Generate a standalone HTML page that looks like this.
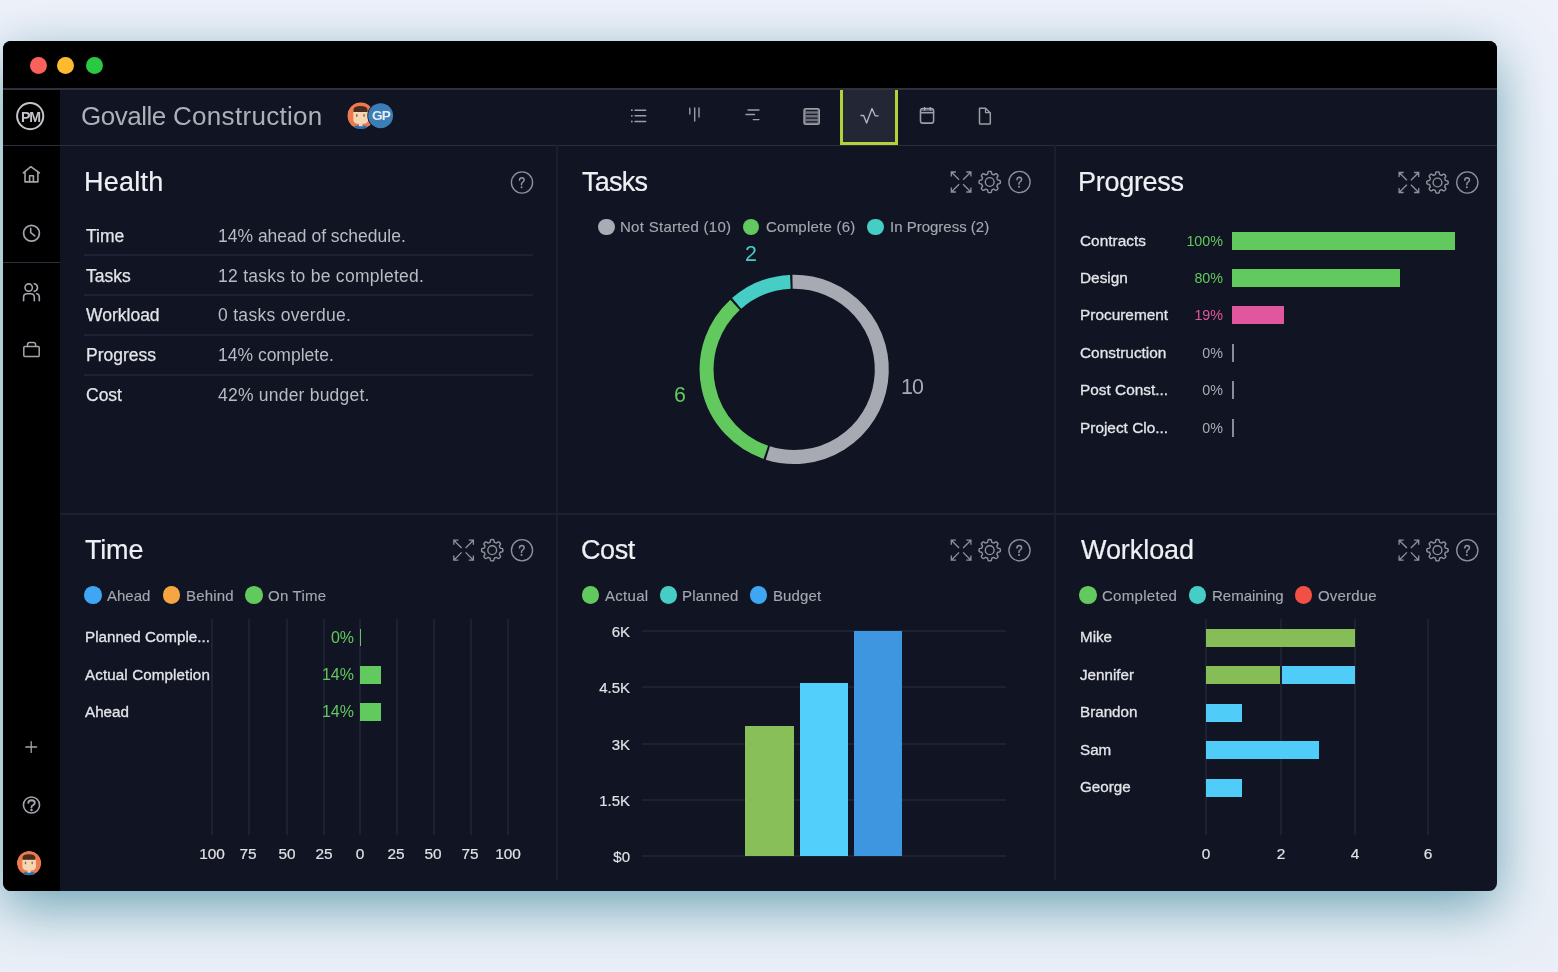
<!DOCTYPE html>
<html><head><meta charset="utf-8">
<style>
*{box-sizing:border-box;margin:0;padding:0}
html,body{width:1558px;height:972px;overflow:hidden}
body{position:relative;background:#edf1f7;font-family:"Liberation Sans",sans-serif;color:#e6e7ea}
.a{position:absolute}
.t{position:absolute;white-space:nowrap;will-change:transform}
#bgtop{left:0;top:0;width:1558px;height:972px;background:linear-gradient(180deg,#eef1fa 0px,#ebf0f8 500px,#eaeff7 100%)}
#win{left:3px;top:41px;width:1494px;height:850px;border-radius:8px;background:#111422;overflow:hidden;
 box-shadow:0 16px 54px rgba(70,140,158,.75)}
#title{left:0;top:0;width:1494px;height:48px;background:#000}
.tl{position:absolute;top:16px;width:17px;height:17px;border-radius:50%}
#side{left:0;top:48px;width:57px;height:802px;background:#000}
.hl{position:absolute;height:1px;background:#2a2d3b}
.vl{position:absolute;width:1px;background:#1f2232}
</style></head>
<body>
<div class="a" id="bgtop"></div>
<div class="a" id="win">
  <div class="a" id="title">
    <div class="tl" style="left:26.5px;background:#fb605a"></div>
    <div class="tl" style="left:54.3px;background:#febb2f"></div>
    <div class="tl" style="left:83px;background:#2bc941"></div>
  </div>
  <div class="a" id="side"></div>
  <!-- header lines -->
  
  <div class="hl" style="left:0;top:104px;width:1494px;background:#2b2e3c"></div>
  <div class="hl" style="left:0;top:221px;width:57px;background:#2b2e3c"></div>
</div>

<!-- sidebar icons -->
<svg class="a" style="left:0;top:0" width="70" height="890" viewBox="0 0 70 890" fill="none" stroke="#c3c5cb" stroke-width="1.6" stroke-linecap="round" stroke-linejoin="round">
  <circle cx="30.2" cy="116.1" r="13.1" stroke-width="2"/>
  <path d="M23.4 172.9 L30.8 166.7 L39.4 172.9 M25 171.6 V181.9 H37.9 V171.6 M29.6 181.9 V175.8 H33.4 V181.9" stroke="#a3a5ad"/>
  <circle cx="31.5" cy="233.3" r="7.9" stroke="#a3a5ad" stroke-width="1.7"/>
  <path d="M30.7 228.4 V232.6 L34.8 235.9" stroke="#a3a5ad"/>
  <circle cx="28.7" cy="287.6" r="3.7" stroke="#a3a5ad"/>
  <path d="M34.2 283.7 A3.9 3.9 0 0 1 34.2 291.4" stroke="#a3a5ad"/>
  <path d="M23.6 300.8 V297.2 Q23.6 293.7 27.1 293.7 H30.6 Q34.3 293.7 34.3 297.2 V300.8 M36.6 293.7 Q39.3 293.8 39.3 297.2 V300.8" stroke="#a3a5ad"/>
  <rect x="23.8" y="346.6" width="15.4" height="10" rx="1" stroke="#a3a5ad" stroke-width="1.5"/>
  <path d="M27.5 346.4 V344.8 Q27.5 342.6 29.7 342.6 H33.4 Q35.6 342.6 35.6 344.8 V346.4" stroke="#a3a5ad" stroke-width="1.5"/>
  <path d="M31.2 741.6 V752.4 M25.8 747 H36.6" stroke="#a3a5ad" stroke-width="1.3"/>
  <circle cx="31.5" cy="805" r="8.05" stroke="#a3a5ad" stroke-width="1.6"/>
  <path d="M28.3 802.9 Q28.4 800.3 31.6 800.3 Q34.8 800.4 34.8 802.8 Q34.8 804.3 33.2 805.1 Q31.5 805.9 31.5 807.1 V807.5" stroke="#a3a5ad" stroke-width="1.9"/>
  <circle cx="31.5" cy="809.9" r="1.25" fill="#a3a5ad" stroke="none"/>
</svg>
<div class="t" style="left:16.5px;top:108.6px;width:27px;text-align:center;font:bold 14.2px/16px 'Liberation Sans',sans-serif;color:#c3c5cb;letter-spacing:-1.1px">PM</div>
<!-- avatar bottom -->
<svg class="a" style="left:16.35px;top:849.60px" width="26.20" height="26.20" viewBox="-13 -13 26 26">
  <defs><clipPath id="cpA"><circle cx="0" cy="0" r="12"/></clipPath></defs>
  <g transform="scale(1.0083)" clip-path="url(#cpA)">
  <circle cx="0" cy="0" r="12" fill="#ec7a4e"/>
  <path d="M-5.6 9.2 Q0 8 5.4 9.2 L6 13 H-6.2Z" fill="#2a6db3"/>
  <path d="M-1.6 6 H1.6 V9.4 H-1.6Z" fill="#f3d3ad"/>
  <path d="M-6.6 -3.6 H6.7 V3.2 Q6.7 7.2 2.6 7.2 H-2.5 Q-6.6 7.2 -6.6 3.2Z" fill="#f6d7b3"/>
  <path d="M-6.4 -3.4 V-5.6 Q-6.2 -8.8 -0.2 -8.8 Q5.9 -8.8 6.1 -5.6 V-3.4Z" fill="#4a2c1f"/>
  <rect x="-4.2" y="-1.6" width="1.3" height="2.8" rx="0.6" fill="#8a6a44"/>
  <rect x="2.4" y="-1.6" width="1.3" height="2.8" rx="0.6" fill="#8a6a44"/>
  </g></svg>
<!-- header -->
<div class="t" style="left:81px;top:102px;font-size:26px;line-height:28px;color:#adb0ba;letter-spacing:-0.5px">Govalle</div><div class="t" style="left:172.5px;top:102px;font-size:26px;line-height:28px;color:#adb0ba;letter-spacing:0.3px">Construction</div>
<svg class="a" style="left:347.10px;top:101.80px" width="27.40" height="27.40" viewBox="-13 -13 26 26">
  <defs><clipPath id="cpB"><circle cx="0" cy="0" r="12"/></clipPath></defs>
  <g transform="scale(1.0583)" clip-path="url(#cpB)">
  <circle cx="0" cy="0" r="12" fill="#ec7a4e"/>
  <path d="M-5.6 9.2 Q0 8 5.4 9.2 L6 13 H-6.2Z" fill="#2a6db3"/>
  <path d="M-1.6 6 H1.6 V9.4 H-1.6Z" fill="#f3d3ad"/>
  <path d="M-6.6 -3.6 H6.7 V3.2 Q6.7 7.2 2.6 7.2 H-2.5 Q-6.6 7.2 -6.6 3.2Z" fill="#f6d7b3"/>
  <path d="M-6.4 -3.4 V-5.6 Q-6.2 -8.8 -0.2 -8.8 Q5.9 -8.8 6.1 -5.6 V-3.4Z" fill="#4a2c1f"/>
  <rect x="-4.2" y="-1.6" width="1.3" height="2.8" rx="0.6" fill="#8a6a44"/>
  <rect x="2.4" y="-1.6" width="1.3" height="2.8" rx="0.6" fill="#8a6a44"/>
  </g></svg>
<svg class="a" style="left:366px;top:101px" width="30" height="30" viewBox="366 101 30 30"><circle cx="380.6" cy="115.7" r="13.3" fill="#111422"/><circle cx="380.6" cy="115.7" r="12.5" fill="#3b7db7"/></svg>
<div class="t" style="left:367.6px;top:108.2px;width:26px;text-align:center;font:bold 13.6px/16px 'Liberation Sans',sans-serif;color:#e6eef6;letter-spacing:-0.9px">GP</div>
<!-- active tab -->
<div class="a" style="left:840px;top:89px;width:58px;height:56px;background:#232634;border:3px solid #b3d13a;border-top:0"></div>
<div class="a" style="left:3px;top:88px;width:1494px;height:2px;background:#2f323c"></div>
<svg class="a" style="left:600px;top:89px" width="420" height="56" viewBox="600 89 420 56" fill="none" stroke="#9b9ea8" stroke-width="1.4" stroke-linecap="round" stroke-linejoin="round">
  <path d="M635 110.2 H645.7 M635 115.8 H645.7 M635 121.5 H645.7" />
  <path d="M631.8 110.2 h0.1 M631.8 115.8 h0.1 M631.8 121.5 h0.1" stroke-width="1.8"/>
  <path d="M689.8 108.3 V114 M694.7 108 V121 M699 108 V117" />
  <path d="M748 110 H759 M746 114.5 H754.5 M753.2 119.6 H759" />
  <rect x="804" y="108.6" width="15.3" height="15.6" rx="1.8" fill="#6c6f7a" stroke="#9b9ea7" stroke-width="1.4"/>
  <path d="M806 110.6 H817.6 M806 114.4 H817.6 M806 118.2 H817.6 M806 121.8 H817.6" stroke="#151823" stroke-width="1.2" stroke-linecap="butt"/>
  <path d="M861 115.5 H863.6 L866.6 123 L872 108.6 L875.2 115.8 H878.2" stroke="#b3b6be" stroke-width="1.35"/>
  <path d="M920.6 111.2 V110.4 Q920.6 108.6 922.4 108.6 H931.8 Q933.6 108.6 933.6 110.4 V111.2 Z" fill="#5c5f6c" stroke="none"/>
  <rect x="920.5" y="108.5" width="13.1" height="14.6" rx="2.2" stroke-width="1.55"/>
  <path d="M920.5 112.7 H933.6" stroke-width="1.4"/>
  <path d="M924.6 107.6 V110 M930.3 107.6 V110" stroke="#b0b3bc" stroke-width="1.3"/>
  <path d="M979.5 108.2 H985.5 L990.3 113 V123.3 Q990.3 124.1 989.5 124.1 H980.3 Q979.5 124.1 979.5 123.3 Z" stroke-width="1.5"/>
  <path d="M985.5 108.4 V112.6 H990" stroke-width="1.3"/>
</svg>

<div class="a" style="left:555.5px;top:145.0px;width:2.0px;height:735.0px;background:#1b1e2c;"></div>
<div class="a" style="left:1053.5px;top:145.0px;width:2.0px;height:735.0px;background:#1b1e2c;"></div>
<div class="a" style="left:60.0px;top:512.5px;width:1437.0px;height:2.0px;background:#1d2030;"></div>
<div class="t" style="left:83.9px;top:165.0px;font-size:27px;line-height:34px;color:#eef0f3;font-weight:normal;-webkit-text-stroke:0.2px currentColor;letter-spacing:0.24px">Health</div>
<div class="t" style="left:85.5px;top:224.8px;font-size:17.5px;line-height:22px;color:#e3e5e9;font-weight:normal;-webkit-text-stroke:0.25px currentColor;">Time</div>
<div class="t" style="left:218.0px;top:224.8px;font-size:17.5px;line-height:22px;color:#b9bcc4;font-weight:normal;letter-spacing:0px">14% ahead of schedule.</div>
<div class="t" style="left:85.5px;top:265.0px;font-size:17.5px;line-height:22px;color:#e3e5e9;font-weight:normal;-webkit-text-stroke:0.25px currentColor;">Tasks</div>
<div class="t" style="left:218.0px;top:265.0px;font-size:17.5px;line-height:22px;color:#b9bcc4;font-weight:normal;letter-spacing:0.27px">12 tasks to be completed.</div>
<div class="t" style="left:85.5px;top:304.0px;font-size:17.5px;line-height:22px;color:#e3e5e9;font-weight:normal;-webkit-text-stroke:0.25px currentColor;">Workload</div>
<div class="t" style="left:218.0px;top:304.0px;font-size:17.5px;line-height:22px;color:#b9bcc4;font-weight:normal;letter-spacing:0.3px">0 tasks overdue.</div>
<div class="t" style="left:85.5px;top:344.0px;font-size:17.5px;line-height:22px;color:#e3e5e9;font-weight:normal;-webkit-text-stroke:0.25px currentColor;">Progress</div>
<div class="t" style="left:218.0px;top:344.0px;font-size:17.5px;line-height:22px;color:#b9bcc4;font-weight:normal;letter-spacing:0px">14% complete.</div>
<div class="t" style="left:85.5px;top:384.0px;font-size:17.5px;line-height:22px;color:#e3e5e9;font-weight:normal;-webkit-text-stroke:0.25px currentColor;">Cost</div>
<div class="t" style="left:218.0px;top:384.0px;font-size:17.5px;line-height:22px;color:#b9bcc4;font-weight:normal;letter-spacing:0.22px">42% under budget.</div>
<div class="a" style="left:84.0px;top:254.0px;width:449.0px;height:2.0px;background:#1e2131;"></div>
<div class="a" style="left:84.0px;top:294.0px;width:449.0px;height:2.0px;background:#1e2131;"></div>
<div class="a" style="left:84.0px;top:334.0px;width:449.0px;height:2.0px;background:#1e2131;"></div>
<div class="a" style="left:84.0px;top:373.8px;width:449.0px;height:2.0px;background:#1e2131;"></div>
<div class="t" style="left:582.0px;top:165.0px;font-size:27px;line-height:34px;color:#eef0f3;font-weight:normal;-webkit-text-stroke:0.2px currentColor;letter-spacing:-0.75px">Tasks</div>
<div class="a" style="left:598.1px;top:218.6px;width:16.5px;height:16.5px;border-radius:50%;background:#a9acb5"></div>
<div class="t" style="left:620.0px;top:217.3px;font-size:15px;line-height:19px;color:#a4a7b0;font-weight:normal;letter-spacing:0.29px;-webkit-text-stroke:0.15px currentColor">Not Started (10)</div>
<div class="a" style="left:742.5px;top:218.6px;width:16.5px;height:16.5px;border-radius:50%;background:#62c95f"></div>
<div class="t" style="left:766.2px;top:217.3px;font-size:15px;line-height:19px;color:#a4a7b0;font-weight:normal;letter-spacing:0.23px;-webkit-text-stroke:0.15px currentColor">Complete (6)</div>
<div class="a" style="left:867.4px;top:218.6px;width:16.5px;height:16.5px;border-radius:50%;background:#45cdc6"></div>
<div class="t" style="left:890.4px;top:217.3px;font-size:15px;line-height:19px;color:#a4a7b0;font-weight:normal;letter-spacing:0px;-webkit-text-stroke:0.15px currentColor">In Progress (2)</div>
<div class="t" style="left:736.4px;width:30px;text-align:center;top:241.2px;font-size:21.4px;line-height:27px;color:#45cdc6;font-weight:normal;">2</div>
<div class="t" style="left:664.8px;width:30px;text-align:center;top:381.9px;font-size:21.4px;line-height:27px;color:#62c95f;font-weight:normal;">6</div>
<div class="t" style="left:891.6px;width:40px;text-align:center;top:374.4px;font-size:21.4px;line-height:27px;color:#a9acb5;font-weight:normal;letter-spacing:-0.8px">10</div>
<div class="t" style="left:1078.0px;top:165.0px;font-size:27px;line-height:34px;color:#eef0f3;font-weight:normal;-webkit-text-stroke:0.2px currentColor;letter-spacing:-0.28px">Progress</div>
<div class="t" style="left:1079.5px;top:230.6px;font-size:15.4px;line-height:19px;color:#e3e5e9;font-weight:normal;-webkit-text-stroke:0.3px currentColor;">Contracts</div>
<div class="t" style="left:1163.0px;width:60px;text-align:right;top:231.7px;font-size:14.3px;line-height:18px;color:#62c95f;font-weight:normal;">100%</div>
<div class="a" style="left:1232.0px;top:231.7px;width:222.5px;height:18.0px;background:#62c95f;"></div>
<div class="t" style="left:1079.5px;top:268.3px;font-size:15.4px;line-height:19px;color:#e3e5e9;font-weight:normal;-webkit-text-stroke:0.3px currentColor;">Design</div>
<div class="t" style="left:1163.0px;width:60px;text-align:right;top:269.4px;font-size:14.3px;line-height:18px;color:#62c95f;font-weight:normal;">80%</div>
<div class="a" style="left:1232.0px;top:269.4px;width:167.6px;height:18.0px;background:#62c95f;"></div>
<div class="t" style="left:1079.5px;top:305.3px;font-size:15.4px;line-height:19px;color:#e3e5e9;font-weight:normal;-webkit-text-stroke:0.3px currentColor;">Procurement</div>
<div class="t" style="left:1163.0px;width:60px;text-align:right;top:306.4px;font-size:14.3px;line-height:18px;color:#e0579e;font-weight:normal;">19%</div>
<div class="a" style="left:1232.0px;top:306.4px;width:51.8px;height:18.0px;background:#e0579e;"></div>
<div class="t" style="left:1079.5px;top:342.9px;font-size:15.4px;line-height:19px;color:#e3e5e9;font-weight:normal;-webkit-text-stroke:0.3px currentColor;">Construction</div>
<div class="t" style="left:1163.0px;width:60px;text-align:right;top:344.0px;font-size:14.3px;line-height:18px;color:#a9acb5;font-weight:normal;">0%</div>
<div class="a" style="left:1232.2px;top:344.0px;width:1.4px;height:18.0px;background:#8a8d97;"></div>
<div class="t" style="left:1079.5px;top:380.3px;font-size:15.4px;line-height:19px;color:#e3e5e9;font-weight:normal;-webkit-text-stroke:0.3px currentColor;">Post Const...</div>
<div class="t" style="left:1163.0px;width:60px;text-align:right;top:381.4px;font-size:14.3px;line-height:18px;color:#a9acb5;font-weight:normal;">0%</div>
<div class="a" style="left:1232.2px;top:381.4px;width:1.4px;height:18.0px;background:#8a8d97;"></div>
<div class="t" style="left:1079.5px;top:417.9px;font-size:15.4px;line-height:19px;color:#e3e5e9;font-weight:normal;-webkit-text-stroke:0.3px currentColor;">Project Clo...</div>
<div class="t" style="left:1163.0px;width:60px;text-align:right;top:419.0px;font-size:14.3px;line-height:18px;color:#a9acb5;font-weight:normal;">0%</div>
<div class="a" style="left:1232.2px;top:419.0px;width:1.4px;height:18.0px;background:#8a8d97;"></div>
<div class="t" style="left:85.0px;top:533.0px;font-size:27px;line-height:34px;color:#eef0f3;font-weight:normal;-webkit-text-stroke:0.2px currentColor;letter-spacing:-0.2px">Time</div>
<div class="a" style="left:84.2px;top:586.2px;width:17.5px;height:17.5px;border-radius:50%;background:#3ea6f2"></div>
<div class="t" style="left:107.4px;top:585.5px;font-size:15px;line-height:19px;color:#a4a7b0;font-weight:normal;letter-spacing:0px;-webkit-text-stroke:0.15px currentColor">Ahead</div>
<div class="a" style="left:162.8px;top:586.2px;width:17.5px;height:17.5px;border-radius:50%;background:#f5a541"></div>
<div class="t" style="left:186.4px;top:585.5px;font-size:15px;line-height:19px;color:#a4a7b0;font-weight:normal;letter-spacing:0.16px;-webkit-text-stroke:0.15px currentColor">Behind</div>
<div class="a" style="left:245.1px;top:586.2px;width:17.5px;height:17.5px;border-radius:50%;background:#62c95f"></div>
<div class="t" style="left:267.9px;top:585.5px;font-size:15px;line-height:19px;color:#a4a7b0;font-weight:normal;letter-spacing:0.23px;-webkit-text-stroke:0.15px currentColor">On Time</div>
<div class="a" style="left:211.3px;top:619.0px;width:2.0px;height:216.0px;background:#1e2131;"></div>
<div class="t" style="left:191.9px;width:40px;text-align:center;top:843.5px;font-size:15.4px;line-height:19px;color:#dfe1e5;font-weight:normal;-webkit-text-stroke:0.2px currentColor">100</div>
<div class="a" style="left:247.6px;top:619.0px;width:2.0px;height:216.0px;background:#1e2131;"></div>
<div class="t" style="left:228.2px;width:40px;text-align:center;top:843.5px;font-size:15.4px;line-height:19px;color:#dfe1e5;font-weight:normal;-webkit-text-stroke:0.2px currentColor">75</div>
<div class="a" style="left:285.9px;top:619.0px;width:2.0px;height:216.0px;background:#1e2131;"></div>
<div class="t" style="left:266.5px;width:40px;text-align:center;top:843.5px;font-size:15.4px;line-height:19px;color:#dfe1e5;font-weight:normal;-webkit-text-stroke:0.2px currentColor">50</div>
<div class="a" style="left:323.4px;top:619.0px;width:2.0px;height:216.0px;background:#1e2131;"></div>
<div class="t" style="left:304.0px;width:40px;text-align:center;top:843.5px;font-size:15.4px;line-height:19px;color:#dfe1e5;font-weight:normal;-webkit-text-stroke:0.2px currentColor">25</div>
<div class="a" style="left:359.2px;top:619.0px;width:2.0px;height:216.0px;background:#1e2131;"></div>
<div class="t" style="left:339.8px;width:40px;text-align:center;top:843.5px;font-size:15.4px;line-height:19px;color:#dfe1e5;font-weight:normal;-webkit-text-stroke:0.2px currentColor">0</div>
<div class="a" style="left:395.6px;top:619.0px;width:2.0px;height:216.0px;background:#1e2131;"></div>
<div class="t" style="left:376.2px;width:40px;text-align:center;top:843.5px;font-size:15.4px;line-height:19px;color:#dfe1e5;font-weight:normal;-webkit-text-stroke:0.2px currentColor">25</div>
<div class="a" style="left:432.5px;top:619.0px;width:2.0px;height:216.0px;background:#1e2131;"></div>
<div class="t" style="left:413.1px;width:40px;text-align:center;top:843.5px;font-size:15.4px;line-height:19px;color:#dfe1e5;font-weight:normal;-webkit-text-stroke:0.2px currentColor">50</div>
<div class="a" style="left:469.7px;top:619.0px;width:2.0px;height:216.0px;background:#1e2131;"></div>
<div class="t" style="left:450.3px;width:40px;text-align:center;top:843.5px;font-size:15.4px;line-height:19px;color:#dfe1e5;font-weight:normal;-webkit-text-stroke:0.2px currentColor">75</div>
<div class="a" style="left:507.4px;top:619.0px;width:2.0px;height:216.0px;background:#1e2131;"></div>
<div class="t" style="left:488.0px;width:40px;text-align:center;top:843.5px;font-size:15.4px;line-height:19px;color:#dfe1e5;font-weight:normal;-webkit-text-stroke:0.2px currentColor">100</div>
<div class="t" style="left:84.5px;top:627.3px;font-size:15.2px;line-height:19px;color:#e3e5e9;font-weight:normal;-webkit-text-stroke:0.3px currentColor;">Planned Comple...</div>
<div class="t" style="left:293.7px;width:60px;text-align:right;top:627.6px;font-size:16px;line-height:20px;color:#62c95f;font-weight:normal;">0%</div>
<div class="a" style="left:359.5px;top:628.8px;width:1.8px;height:17.6px;background:#62c95f;"></div>
<div class="t" style="left:84.5px;top:664.7px;font-size:15.2px;line-height:19px;color:#e3e5e9;font-weight:normal;-webkit-text-stroke:0.3px currentColor;letter-spacing:0.1px;">Actual Completion</div>
<div class="t" style="left:293.7px;width:60px;text-align:right;top:665.0px;font-size:16px;line-height:20px;color:#62c95f;font-weight:normal;">14%</div>
<div class="a" style="left:360.2px;top:666.2px;width:21.0px;height:17.6px;background:#62c95f;"></div>
<div class="t" style="left:84.5px;top:701.7px;font-size:15.2px;line-height:19px;color:#e3e5e9;font-weight:normal;-webkit-text-stroke:0.3px currentColor;">Ahead</div>
<div class="t" style="left:293.7px;width:60px;text-align:right;top:702.0px;font-size:16px;line-height:20px;color:#62c95f;font-weight:normal;">14%</div>
<div class="a" style="left:360.2px;top:703.2px;width:21.0px;height:17.6px;background:#62c95f;"></div>
<div class="t" style="left:581.0px;top:533.0px;font-size:27px;line-height:34px;color:#eef0f3;font-weight:normal;-webkit-text-stroke:0.2px currentColor;letter-spacing:-0.4px">Cost</div>
<div class="a" style="left:581.8px;top:586.2px;width:17.5px;height:17.5px;border-radius:50%;background:#62c95f"></div>
<div class="t" style="left:605.4px;top:585.5px;font-size:15px;line-height:19px;color:#a4a7b0;font-weight:normal;letter-spacing:0.3px;-webkit-text-stroke:0.15px currentColor">Actual</div>
<div class="a" style="left:659.6px;top:586.2px;width:17.5px;height:17.5px;border-radius:50%;background:#45cdc6"></div>
<div class="t" style="left:682.4px;top:585.5px;font-size:15px;line-height:19px;color:#a4a7b0;font-weight:normal;letter-spacing:0.23px;-webkit-text-stroke:0.15px currentColor">Planned</div>
<div class="a" style="left:749.9px;top:586.2px;width:17.5px;height:17.5px;border-radius:50%;background:#3ea6f2"></div>
<div class="t" style="left:772.7px;top:585.5px;font-size:15px;line-height:19px;color:#a4a7b0;font-weight:normal;letter-spacing:0.12px;-webkit-text-stroke:0.15px currentColor">Budget</div>
<div class="t" style="left:570.2px;width:60px;text-align:right;top:622.1px;font-size:15px;line-height:19px;color:#dfe1e5;font-weight:normal;-webkit-text-stroke:0.2px currentColor">6K</div>
<div class="a" style="left:642.3px;top:630.2px;width:364.2px;height:2.0px;background:#1e2131;"></div>
<div class="t" style="left:570.2px;width:60px;text-align:right;top:678.3px;font-size:15px;line-height:19px;color:#dfe1e5;font-weight:normal;-webkit-text-stroke:0.2px currentColor">4.5K</div>
<div class="a" style="left:642.3px;top:686.4px;width:364.2px;height:2.0px;background:#1e2131;"></div>
<div class="t" style="left:570.2px;width:60px;text-align:right;top:734.5px;font-size:15px;line-height:19px;color:#dfe1e5;font-weight:normal;-webkit-text-stroke:0.2px currentColor">3K</div>
<div class="a" style="left:642.3px;top:742.6px;width:364.2px;height:2.0px;background:#1e2131;"></div>
<div class="t" style="left:570.2px;width:60px;text-align:right;top:790.7px;font-size:15px;line-height:19px;color:#dfe1e5;font-weight:normal;-webkit-text-stroke:0.2px currentColor">1.5K</div>
<div class="a" style="left:642.3px;top:798.8px;width:364.2px;height:2.0px;background:#1e2131;"></div>
<div class="t" style="left:570.2px;width:60px;text-align:right;top:846.9px;font-size:15px;line-height:19px;color:#dfe1e5;font-weight:normal;-webkit-text-stroke:0.2px currentColor">$0</div>
<div class="a" style="left:642.3px;top:855.0px;width:364.2px;height:2.0px;background:#1e2131;"></div>
<div class="a" style="left:745.4px;top:726.0px;width:48.6px;height:130.0px;background:#88bf58;"></div>
<div class="a" style="left:800.0px;top:682.6px;width:48.1px;height:173.4px;background:#52cffa;"></div>
<div class="a" style="left:854.2px;top:630.8px;width:48.1px;height:225.2px;background:#3e96e0;"></div>
<div class="t" style="left:1080.9px;top:533.0px;font-size:27px;line-height:34px;color:#eef0f3;font-weight:normal;-webkit-text-stroke:0.2px currentColor;letter-spacing:-0.07px">Workload</div>
<div class="a" style="left:1079.3px;top:586.2px;width:17.5px;height:17.5px;border-radius:50%;background:#62c95f"></div>
<div class="t" style="left:1102.0px;top:585.5px;font-size:15px;line-height:19px;color:#a4a7b0;font-weight:normal;letter-spacing:0.29px;-webkit-text-stroke:0.15px currentColor">Completed</div>
<div class="a" style="left:1188.5px;top:586.2px;width:17.5px;height:17.5px;border-radius:50%;background:#45cdc6"></div>
<div class="t" style="left:1211.6px;top:585.5px;font-size:15px;line-height:19px;color:#a4a7b0;font-weight:normal;letter-spacing:0px;-webkit-text-stroke:0.15px currentColor">Remaining</div>
<div class="a" style="left:1294.8px;top:586.2px;width:17.5px;height:17.5px;border-radius:50%;background:#f25045"></div>
<div class="t" style="left:1318.0px;top:585.5px;font-size:15px;line-height:19px;color:#a4a7b0;font-weight:normal;letter-spacing:0.17px;-webkit-text-stroke:0.15px currentColor">Overdue</div>
<div class="a" style="left:1205.4px;top:619.0px;width:2.0px;height:216.0px;background:#1e2131;"></div>
<div class="t" style="left:1191.4px;width:30px;text-align:center;top:843.5px;font-size:15.4px;line-height:19px;color:#dfe1e5;font-weight:normal;-webkit-text-stroke:0.2px currentColor">0</div>
<div class="a" style="left:1280.4px;top:619.0px;width:2.0px;height:216.0px;background:#1e2131;"></div>
<div class="t" style="left:1266.4px;width:30px;text-align:center;top:843.5px;font-size:15.4px;line-height:19px;color:#dfe1e5;font-weight:normal;-webkit-text-stroke:0.2px currentColor">2</div>
<div class="a" style="left:1353.8px;top:619.0px;width:2.0px;height:216.0px;background:#1e2131;"></div>
<div class="t" style="left:1339.8px;width:30px;text-align:center;top:843.5px;font-size:15.4px;line-height:19px;color:#dfe1e5;font-weight:normal;-webkit-text-stroke:0.2px currentColor">4</div>
<div class="a" style="left:1427.2px;top:619.0px;width:2.0px;height:216.0px;background:#1e2131;"></div>
<div class="t" style="left:1413.2px;width:30px;text-align:center;top:843.5px;font-size:15.4px;line-height:19px;color:#dfe1e5;font-weight:normal;-webkit-text-stroke:0.2px currentColor">6</div>
<div class="t" style="left:1079.5px;top:627.4px;font-size:15.2px;line-height:19px;color:#e3e5e9;font-weight:normal;-webkit-text-stroke:0.3px currentColor;">Mike</div>
<div class="a" style="left:1206.4px;top:628.6px;width:148.4px;height:18.0px;background:#86bd56;"></div>
<div class="t" style="left:1079.5px;top:664.8px;font-size:15.2px;line-height:19px;color:#e3e5e9;font-weight:normal;-webkit-text-stroke:0.3px currentColor;">Jennifer</div>
<div class="a" style="left:1206.4px;top:666.0px;width:74.0px;height:18.0px;background:#86bd56;"></div>
<div class="a" style="left:1281.9px;top:666.0px;width:72.9px;height:18.0px;background:#4fcdf8;"></div>
<div class="t" style="left:1079.5px;top:702.4px;font-size:15.2px;line-height:19px;color:#e3e5e9;font-weight:normal;-webkit-text-stroke:0.3px currentColor;">Brandon</div>
<div class="a" style="left:1206.4px;top:703.6px;width:35.3px;height:18.0px;background:#4fcdf8;"></div>
<div class="t" style="left:1079.5px;top:739.8px;font-size:15.2px;line-height:19px;color:#e3e5e9;font-weight:normal;-webkit-text-stroke:0.3px currentColor;">Sam</div>
<div class="a" style="left:1206.4px;top:741.0px;width:112.6px;height:18.0px;background:#4fcdf8;"></div>
<div class="t" style="left:1079.5px;top:777.4px;font-size:15.2px;line-height:19px;color:#e3e5e9;font-weight:normal;-webkit-text-stroke:0.3px currentColor;">George</div>
<div class="a" style="left:1206.4px;top:778.6px;width:35.3px;height:18.0px;background:#4fcdf8;"></div><svg class="a" style="left:0;top:0" width="1558" height="972" viewBox="0 0 1558 972"><circle cx="522" cy="182.5" r="10.6" stroke="#8e919c" stroke-width="1.35" fill="none"/><path d="M519.48 180.20 Q519.57 177.69 521.81 177.69 Q524.13 177.78 524.13 180.02 Q524.13 181.41 522.83 182.16 Q521.53 182.81 521.53 184.11 V184.85" stroke="#8e919c" stroke-width="1.5" fill="none" stroke-linecap="round" stroke-linejoin="round"/><circle cx="521.53" cy="187.27" r="1.02" fill="#8e919c"/><circle cx="1019.5" cy="182" r="10.6" stroke="#8e919c" stroke-width="1.35" fill="none"/><path d="M1016.98 179.70 Q1017.07 177.19 1019.31 177.19 Q1021.63 177.28 1021.63 179.52 Q1021.63 180.91 1020.33 181.66 Q1019.03 182.31 1019.03 183.61 V184.35" stroke="#8e919c" stroke-width="1.5" fill="none" stroke-linecap="round" stroke-linejoin="round"/><circle cx="1019.03" cy="186.77" r="1.02" fill="#8e919c"/><path d="M989.70 171.35 L990.12 171.36 L990.53 171.41 L990.94 171.52 L991.30 171.88 L991.53 172.78 L991.70 173.68 L991.94 174.06 L992.23 174.23 L992.52 174.35 L992.82 174.47 L993.11 174.60 L993.41 174.72 L993.73 174.80 L994.17 174.70 L994.92 174.18 L995.72 173.71 L996.23 173.71 L996.60 173.92 L996.93 174.18 L997.23 174.47 L997.52 174.77 L997.78 175.10 L997.99 175.47 L997.99 175.98 L997.52 176.78 L997.00 177.53 L996.90 177.97 L996.98 178.29 L997.10 178.59 L997.23 178.88 L997.35 179.18 L997.47 179.47 L997.64 179.76 L998.02 180.00 L998.92 180.17 L999.82 180.40 L1000.18 180.76 L1000.29 181.17 L1000.34 181.58 L1000.35 182.00 L1000.34 182.42 L1000.29 182.83 L1000.18 183.24 L999.82 183.60 L998.92 183.83 L998.02 184.00 L997.64 184.24 L997.47 184.53 L997.35 184.82 L997.23 185.12 L997.10 185.41 L996.98 185.71 L996.90 186.03 L997.00 186.47 L997.52 187.22 L997.99 188.02 L997.99 188.53 L997.78 188.90 L997.52 189.23 L997.23 189.53 L996.93 189.82 L996.60 190.08 L996.23 190.29 L995.72 190.29 L994.92 189.82 L994.17 189.30 L993.73 189.20 L993.41 189.28 L993.11 189.40 L992.82 189.53 L992.52 189.65 L992.23 189.77 L991.94 189.94 L991.70 190.32 L991.53 191.22 L991.30 192.12 L990.94 192.48 L990.53 192.59 L990.12 192.64 L989.70 192.65 L989.28 192.64 L988.87 192.59 L988.46 192.48 L988.10 192.12 L987.87 191.22 L987.70 190.32 L987.46 189.94 L987.17 189.77 L986.88 189.65 L986.58 189.53 L986.29 189.40 L985.99 189.28 L985.67 189.20 L985.23 189.30 L984.48 189.82 L983.68 190.29 L983.17 190.29 L982.80 190.08 L982.47 189.82 L982.17 189.53 L981.88 189.23 L981.62 188.90 L981.41 188.53 L981.41 188.02 L981.88 187.22 L982.40 186.47 L982.50 186.03 L982.42 185.71 L982.30 185.41 L982.17 185.12 L982.05 184.82 L981.93 184.53 L981.76 184.24 L981.38 184.00 L980.48 183.83 L979.58 183.60 L979.22 183.24 L979.11 182.83 L979.06 182.42 L979.05 182.00 L979.06 181.58 L979.11 181.17 L979.22 180.76 L979.58 180.40 L980.48 180.17 L981.38 180.00 L981.76 179.76 L981.93 179.47 L982.05 179.18 L982.17 178.88 L982.30 178.59 L982.42 178.29 L982.50 177.97 L982.40 177.53 L981.88 176.78 L981.41 175.98 L981.41 175.47 L981.62 175.10 L981.88 174.77 L982.17 174.47 L982.47 174.18 L982.80 173.92 L983.17 173.71 L983.68 173.71 L984.48 174.18 L985.23 174.70 L985.67 174.80 L985.99 174.72 L986.29 174.60 L986.58 174.47 L986.88 174.35 L987.17 174.23 L987.46 174.06 L987.70 173.68 L987.87 172.78 L988.10 171.88 L988.46 171.52 L988.87 171.41 L989.28 171.36Z" stroke="#8e919c" stroke-width="1.45" fill="none" stroke-linejoin="round"/><circle cx="989.7" cy="182" r="4.4" stroke="#8e919c" stroke-width="1.4" fill="none"/><path d="M951.3 172 L959.0999999999999 179.8 M951.3 176.6 V172 H955.9 M970.9 172 L963.1 179.8 M966.3 172 H970.9 V176.6 M951.3 192 L959.0999999999999 184.2 M951.3 187.4 V192 H955.9 M970.9 192 L963.1 184.2 M966.3 192 H970.9 V187.4" stroke="#8e919c" stroke-width="1.3" fill="none" stroke-linecap="butt" stroke-linejoin="miter"/><path d="M792.52 281.82 A87.6 87.6 0 1 1 767.86 452.95" stroke="#a7aab3" stroke-width="14" fill="none"/><path d="M765.82 452.28 A87.6 87.6 0 0 1 735.02 304.81" stroke="#62c95f" stroke-width="14" fill="none"/><path d="M736.61 303.39 A87.6 87.6 0 0 1 790.38 281.88" stroke="#45cdc6" stroke-width="14" fill="none"/><circle cx="1467.3" cy="182.5" r="10.6" stroke="#8e919c" stroke-width="1.35" fill="none"/><path d="M1464.78 180.20 Q1464.88 177.69 1467.11 177.69 Q1469.43 177.78 1469.43 180.02 Q1469.43 181.41 1468.13 182.16 Q1466.83 182.81 1466.83 184.11 V184.85" stroke="#8e919c" stroke-width="1.5" fill="none" stroke-linecap="round" stroke-linejoin="round"/><circle cx="1466.83" cy="187.27" r="1.02" fill="#8e919c"/><path d="M1437.50 171.85 L1437.92 171.86 L1438.33 171.91 L1438.74 172.02 L1439.10 172.38 L1439.33 173.28 L1439.50 174.18 L1439.74 174.56 L1440.03 174.73 L1440.32 174.85 L1440.62 174.97 L1440.91 175.10 L1441.21 175.22 L1441.53 175.30 L1441.97 175.20 L1442.72 174.68 L1443.52 174.21 L1444.03 174.21 L1444.40 174.42 L1444.73 174.68 L1445.03 174.97 L1445.32 175.27 L1445.58 175.60 L1445.79 175.97 L1445.79 176.48 L1445.32 177.28 L1444.80 178.03 L1444.70 178.47 L1444.78 178.79 L1444.90 179.09 L1445.03 179.38 L1445.15 179.68 L1445.27 179.97 L1445.44 180.26 L1445.82 180.50 L1446.72 180.67 L1447.62 180.90 L1447.98 181.26 L1448.09 181.67 L1448.14 182.08 L1448.15 182.50 L1448.14 182.92 L1448.09 183.33 L1447.98 183.74 L1447.62 184.10 L1446.72 184.33 L1445.82 184.50 L1445.44 184.74 L1445.27 185.03 L1445.15 185.32 L1445.03 185.62 L1444.90 185.91 L1444.78 186.21 L1444.70 186.53 L1444.80 186.97 L1445.32 187.72 L1445.79 188.52 L1445.79 189.03 L1445.58 189.40 L1445.32 189.73 L1445.03 190.03 L1444.73 190.32 L1444.40 190.58 L1444.03 190.79 L1443.52 190.79 L1442.72 190.32 L1441.97 189.80 L1441.53 189.70 L1441.21 189.78 L1440.91 189.90 L1440.62 190.03 L1440.32 190.15 L1440.03 190.27 L1439.74 190.44 L1439.50 190.82 L1439.33 191.72 L1439.10 192.62 L1438.74 192.98 L1438.33 193.09 L1437.92 193.14 L1437.50 193.15 L1437.08 193.14 L1436.67 193.09 L1436.26 192.98 L1435.90 192.62 L1435.67 191.72 L1435.50 190.82 L1435.26 190.44 L1434.97 190.27 L1434.68 190.15 L1434.38 190.03 L1434.09 189.90 L1433.79 189.78 L1433.47 189.70 L1433.03 189.80 L1432.28 190.32 L1431.48 190.79 L1430.97 190.79 L1430.60 190.58 L1430.27 190.32 L1429.97 190.03 L1429.68 189.73 L1429.42 189.40 L1429.21 189.03 L1429.21 188.52 L1429.68 187.72 L1430.20 186.97 L1430.30 186.53 L1430.22 186.21 L1430.10 185.91 L1429.97 185.62 L1429.85 185.32 L1429.73 185.03 L1429.56 184.74 L1429.18 184.50 L1428.28 184.33 L1427.38 184.10 L1427.02 183.74 L1426.91 183.33 L1426.86 182.92 L1426.85 182.50 L1426.86 182.08 L1426.91 181.67 L1427.02 181.26 L1427.38 180.90 L1428.28 180.67 L1429.18 180.50 L1429.56 180.26 L1429.73 179.97 L1429.85 179.68 L1429.97 179.38 L1430.10 179.09 L1430.22 178.79 L1430.30 178.47 L1430.20 178.03 L1429.68 177.28 L1429.21 176.48 L1429.21 175.97 L1429.42 175.60 L1429.68 175.27 L1429.97 174.97 L1430.27 174.68 L1430.60 174.42 L1430.97 174.21 L1431.48 174.21 L1432.28 174.68 L1433.03 175.20 L1433.47 175.30 L1433.79 175.22 L1434.09 175.10 L1434.38 174.97 L1434.68 174.85 L1434.97 174.73 L1435.26 174.56 L1435.50 174.18 L1435.67 173.28 L1435.90 172.38 L1436.26 172.02 L1436.67 171.91 L1437.08 171.86Z" stroke="#8e919c" stroke-width="1.45" fill="none" stroke-linejoin="round"/><circle cx="1437.5" cy="182.5" r="4.4" stroke="#8e919c" stroke-width="1.4" fill="none"/><path d="M1399.1 172.5 L1406.8999999999999 180.3 M1399.1 177.1 V172.5 H1403.6999999999998 M1418.6999999999998 172.5 L1410.8999999999999 180.3 M1414.1 172.5 H1418.6999999999998 V177.1 M1399.1 192.5 L1406.8999999999999 184.7 M1399.1 187.9 V192.5 H1403.6999999999998 M1418.6999999999998 192.5 L1410.8999999999999 184.7 M1414.1 192.5 H1418.6999999999998 V187.9" stroke="#8e919c" stroke-width="1.3" fill="none" stroke-linecap="butt" stroke-linejoin="miter"/><circle cx="522" cy="550.2" r="10.6" stroke="#8e919c" stroke-width="1.35" fill="none"/><path d="M519.48 547.90 Q519.57 545.39 521.81 545.39 Q524.13 545.49 524.13 547.72 Q524.13 549.11 522.83 549.86 Q521.53 550.51 521.53 551.81 V552.55" stroke="#8e919c" stroke-width="1.5" fill="none" stroke-linecap="round" stroke-linejoin="round"/><circle cx="521.53" cy="554.97" r="1.02" fill="#8e919c"/><path d="M492.20 539.55 L492.62 539.56 L493.03 539.61 L493.44 539.72 L493.80 540.08 L494.03 540.98 L494.20 541.88 L494.44 542.26 L494.73 542.43 L495.02 542.55 L495.32 542.67 L495.61 542.80 L495.91 542.92 L496.23 543.00 L496.67 542.90 L497.42 542.38 L498.22 541.91 L498.73 541.91 L499.10 542.12 L499.43 542.38 L499.73 542.67 L500.02 542.97 L500.28 543.30 L500.49 543.67 L500.49 544.18 L500.02 544.98 L499.50 545.73 L499.40 546.17 L499.48 546.49 L499.60 546.79 L499.73 547.08 L499.85 547.38 L499.97 547.67 L500.14 547.96 L500.52 548.20 L501.42 548.37 L502.32 548.60 L502.68 548.96 L502.79 549.37 L502.84 549.78 L502.85 550.20 L502.84 550.62 L502.79 551.03 L502.68 551.44 L502.32 551.80 L501.42 552.03 L500.52 552.20 L500.14 552.44 L499.97 552.73 L499.85 553.02 L499.73 553.32 L499.60 553.61 L499.48 553.91 L499.40 554.23 L499.50 554.67 L500.02 555.42 L500.49 556.22 L500.49 556.73 L500.28 557.10 L500.02 557.43 L499.73 557.73 L499.43 558.02 L499.10 558.28 L498.73 558.49 L498.22 558.49 L497.42 558.02 L496.67 557.50 L496.23 557.40 L495.91 557.48 L495.61 557.60 L495.32 557.73 L495.02 557.85 L494.73 557.97 L494.44 558.14 L494.20 558.52 L494.03 559.42 L493.80 560.32 L493.44 560.68 L493.03 560.79 L492.62 560.84 L492.20 560.85 L491.78 560.84 L491.37 560.79 L490.96 560.68 L490.60 560.32 L490.37 559.42 L490.20 558.52 L489.96 558.14 L489.67 557.97 L489.38 557.85 L489.08 557.73 L488.79 557.60 L488.49 557.48 L488.17 557.40 L487.73 557.50 L486.98 558.02 L486.18 558.49 L485.67 558.49 L485.30 558.28 L484.97 558.02 L484.67 557.73 L484.38 557.43 L484.12 557.10 L483.91 556.73 L483.91 556.22 L484.38 555.42 L484.90 554.67 L485.00 554.23 L484.92 553.91 L484.80 553.61 L484.67 553.32 L484.55 553.02 L484.43 552.73 L484.26 552.44 L483.88 552.20 L482.98 552.03 L482.08 551.80 L481.72 551.44 L481.61 551.03 L481.56 550.62 L481.55 550.20 L481.56 549.78 L481.61 549.37 L481.72 548.96 L482.08 548.60 L482.98 548.37 L483.88 548.20 L484.26 547.96 L484.43 547.67 L484.55 547.38 L484.67 547.08 L484.80 546.79 L484.92 546.49 L485.00 546.17 L484.90 545.73 L484.38 544.98 L483.91 544.18 L483.91 543.67 L484.12 543.30 L484.38 542.97 L484.67 542.67 L484.97 542.38 L485.30 542.12 L485.67 541.91 L486.18 541.91 L486.98 542.38 L487.73 542.90 L488.17 543.00 L488.49 542.92 L488.79 542.80 L489.08 542.67 L489.38 542.55 L489.67 542.43 L489.96 542.26 L490.20 541.88 L490.37 540.98 L490.60 540.08 L490.96 539.72 L491.37 539.61 L491.78 539.56Z" stroke="#8e919c" stroke-width="1.45" fill="none" stroke-linejoin="round"/><circle cx="492.2" cy="550.2" r="4.4" stroke="#8e919c" stroke-width="1.4" fill="none"/><path d="M453.8 540.2 L461.6 548.0 M453.8 544.8000000000001 V540.2 H458.40000000000003 M473.40000000000003 540.2 L465.6 548.0 M468.8 540.2 H473.40000000000003 V544.8000000000001 M453.8 560.2 L461.6 552.4000000000001 M453.8 555.6 V560.2 H458.40000000000003 M473.40000000000003 560.2 L465.6 552.4000000000001 M468.8 560.2 H473.40000000000003 V555.6" stroke="#8e919c" stroke-width="1.3" fill="none" stroke-linecap="butt" stroke-linejoin="miter"/><circle cx="1019.5" cy="550.2" r="10.6" stroke="#8e919c" stroke-width="1.35" fill="none"/><path d="M1016.98 547.90 Q1017.07 545.39 1019.31 545.39 Q1021.63 545.49 1021.63 547.72 Q1021.63 549.11 1020.33 549.86 Q1019.03 550.51 1019.03 551.81 V552.55" stroke="#8e919c" stroke-width="1.5" fill="none" stroke-linecap="round" stroke-linejoin="round"/><circle cx="1019.03" cy="554.97" r="1.02" fill="#8e919c"/><path d="M989.70 539.55 L990.12 539.56 L990.53 539.61 L990.94 539.72 L991.30 540.08 L991.53 540.98 L991.70 541.88 L991.94 542.26 L992.23 542.43 L992.52 542.55 L992.82 542.67 L993.11 542.80 L993.41 542.92 L993.73 543.00 L994.17 542.90 L994.92 542.38 L995.72 541.91 L996.23 541.91 L996.60 542.12 L996.93 542.38 L997.23 542.67 L997.52 542.97 L997.78 543.30 L997.99 543.67 L997.99 544.18 L997.52 544.98 L997.00 545.73 L996.90 546.17 L996.98 546.49 L997.10 546.79 L997.23 547.08 L997.35 547.38 L997.47 547.67 L997.64 547.96 L998.02 548.20 L998.92 548.37 L999.82 548.60 L1000.18 548.96 L1000.29 549.37 L1000.34 549.78 L1000.35 550.20 L1000.34 550.62 L1000.29 551.03 L1000.18 551.44 L999.82 551.80 L998.92 552.03 L998.02 552.20 L997.64 552.44 L997.47 552.73 L997.35 553.02 L997.23 553.32 L997.10 553.61 L996.98 553.91 L996.90 554.23 L997.00 554.67 L997.52 555.42 L997.99 556.22 L997.99 556.73 L997.78 557.10 L997.52 557.43 L997.23 557.73 L996.93 558.02 L996.60 558.28 L996.23 558.49 L995.72 558.49 L994.92 558.02 L994.17 557.50 L993.73 557.40 L993.41 557.48 L993.11 557.60 L992.82 557.73 L992.52 557.85 L992.23 557.97 L991.94 558.14 L991.70 558.52 L991.53 559.42 L991.30 560.32 L990.94 560.68 L990.53 560.79 L990.12 560.84 L989.70 560.85 L989.28 560.84 L988.87 560.79 L988.46 560.68 L988.10 560.32 L987.87 559.42 L987.70 558.52 L987.46 558.14 L987.17 557.97 L986.88 557.85 L986.58 557.73 L986.29 557.60 L985.99 557.48 L985.67 557.40 L985.23 557.50 L984.48 558.02 L983.68 558.49 L983.17 558.49 L982.80 558.28 L982.47 558.02 L982.17 557.73 L981.88 557.43 L981.62 557.10 L981.41 556.73 L981.41 556.22 L981.88 555.42 L982.40 554.67 L982.50 554.23 L982.42 553.91 L982.30 553.61 L982.17 553.32 L982.05 553.02 L981.93 552.73 L981.76 552.44 L981.38 552.20 L980.48 552.03 L979.58 551.80 L979.22 551.44 L979.11 551.03 L979.06 550.62 L979.05 550.20 L979.06 549.78 L979.11 549.37 L979.22 548.96 L979.58 548.60 L980.48 548.37 L981.38 548.20 L981.76 547.96 L981.93 547.67 L982.05 547.38 L982.17 547.08 L982.30 546.79 L982.42 546.49 L982.50 546.17 L982.40 545.73 L981.88 544.98 L981.41 544.18 L981.41 543.67 L981.62 543.30 L981.88 542.97 L982.17 542.67 L982.47 542.38 L982.80 542.12 L983.17 541.91 L983.68 541.91 L984.48 542.38 L985.23 542.90 L985.67 543.00 L985.99 542.92 L986.29 542.80 L986.58 542.67 L986.88 542.55 L987.17 542.43 L987.46 542.26 L987.70 541.88 L987.87 540.98 L988.10 540.08 L988.46 539.72 L988.87 539.61 L989.28 539.56Z" stroke="#8e919c" stroke-width="1.45" fill="none" stroke-linejoin="round"/><circle cx="989.7" cy="550.2" r="4.4" stroke="#8e919c" stroke-width="1.4" fill="none"/><path d="M951.3 540.2 L959.0999999999999 548.0 M951.3 544.8000000000001 V540.2 H955.9 M970.9 540.2 L963.1 548.0 M966.3 540.2 H970.9 V544.8000000000001 M951.3 560.2 L959.0999999999999 552.4000000000001 M951.3 555.6 V560.2 H955.9 M970.9 560.2 L963.1 552.4000000000001 M966.3 560.2 H970.9 V555.6" stroke="#8e919c" stroke-width="1.3" fill="none" stroke-linecap="butt" stroke-linejoin="miter"/><circle cx="1467.3" cy="550.2" r="10.6" stroke="#8e919c" stroke-width="1.35" fill="none"/><path d="M1464.78 547.90 Q1464.88 545.39 1467.11 545.39 Q1469.43 545.49 1469.43 547.72 Q1469.43 549.11 1468.13 549.86 Q1466.83 550.51 1466.83 551.81 V552.55" stroke="#8e919c" stroke-width="1.5" fill="none" stroke-linecap="round" stroke-linejoin="round"/><circle cx="1466.83" cy="554.97" r="1.02" fill="#8e919c"/><path d="M1437.50 539.55 L1437.92 539.56 L1438.33 539.61 L1438.74 539.72 L1439.10 540.08 L1439.33 540.98 L1439.50 541.88 L1439.74 542.26 L1440.03 542.43 L1440.32 542.55 L1440.62 542.67 L1440.91 542.80 L1441.21 542.92 L1441.53 543.00 L1441.97 542.90 L1442.72 542.38 L1443.52 541.91 L1444.03 541.91 L1444.40 542.12 L1444.73 542.38 L1445.03 542.67 L1445.32 542.97 L1445.58 543.30 L1445.79 543.67 L1445.79 544.18 L1445.32 544.98 L1444.80 545.73 L1444.70 546.17 L1444.78 546.49 L1444.90 546.79 L1445.03 547.08 L1445.15 547.38 L1445.27 547.67 L1445.44 547.96 L1445.82 548.20 L1446.72 548.37 L1447.62 548.60 L1447.98 548.96 L1448.09 549.37 L1448.14 549.78 L1448.15 550.20 L1448.14 550.62 L1448.09 551.03 L1447.98 551.44 L1447.62 551.80 L1446.72 552.03 L1445.82 552.20 L1445.44 552.44 L1445.27 552.73 L1445.15 553.02 L1445.03 553.32 L1444.90 553.61 L1444.78 553.91 L1444.70 554.23 L1444.80 554.67 L1445.32 555.42 L1445.79 556.22 L1445.79 556.73 L1445.58 557.10 L1445.32 557.43 L1445.03 557.73 L1444.73 558.02 L1444.40 558.28 L1444.03 558.49 L1443.52 558.49 L1442.72 558.02 L1441.97 557.50 L1441.53 557.40 L1441.21 557.48 L1440.91 557.60 L1440.62 557.73 L1440.32 557.85 L1440.03 557.97 L1439.74 558.14 L1439.50 558.52 L1439.33 559.42 L1439.10 560.32 L1438.74 560.68 L1438.33 560.79 L1437.92 560.84 L1437.50 560.85 L1437.08 560.84 L1436.67 560.79 L1436.26 560.68 L1435.90 560.32 L1435.67 559.42 L1435.50 558.52 L1435.26 558.14 L1434.97 557.97 L1434.68 557.85 L1434.38 557.73 L1434.09 557.60 L1433.79 557.48 L1433.47 557.40 L1433.03 557.50 L1432.28 558.02 L1431.48 558.49 L1430.97 558.49 L1430.60 558.28 L1430.27 558.02 L1429.97 557.73 L1429.68 557.43 L1429.42 557.10 L1429.21 556.73 L1429.21 556.22 L1429.68 555.42 L1430.20 554.67 L1430.30 554.23 L1430.22 553.91 L1430.10 553.61 L1429.97 553.32 L1429.85 553.02 L1429.73 552.73 L1429.56 552.44 L1429.18 552.20 L1428.28 552.03 L1427.38 551.80 L1427.02 551.44 L1426.91 551.03 L1426.86 550.62 L1426.85 550.20 L1426.86 549.78 L1426.91 549.37 L1427.02 548.96 L1427.38 548.60 L1428.28 548.37 L1429.18 548.20 L1429.56 547.96 L1429.73 547.67 L1429.85 547.38 L1429.97 547.08 L1430.10 546.79 L1430.22 546.49 L1430.30 546.17 L1430.20 545.73 L1429.68 544.98 L1429.21 544.18 L1429.21 543.67 L1429.42 543.30 L1429.68 542.97 L1429.97 542.67 L1430.27 542.38 L1430.60 542.12 L1430.97 541.91 L1431.48 541.91 L1432.28 542.38 L1433.03 542.90 L1433.47 543.00 L1433.79 542.92 L1434.09 542.80 L1434.38 542.67 L1434.68 542.55 L1434.97 542.43 L1435.26 542.26 L1435.50 541.88 L1435.67 540.98 L1435.90 540.08 L1436.26 539.72 L1436.67 539.61 L1437.08 539.56Z" stroke="#8e919c" stroke-width="1.45" fill="none" stroke-linejoin="round"/><circle cx="1437.5" cy="550.2" r="4.4" stroke="#8e919c" stroke-width="1.4" fill="none"/><path d="M1399.1 540.2 L1406.8999999999999 548.0 M1399.1 544.8000000000001 V540.2 H1403.6999999999998 M1418.6999999999998 540.2 L1410.8999999999999 548.0 M1414.1 540.2 H1418.6999999999998 V544.8000000000001 M1399.1 560.2 L1406.8999999999999 552.4000000000001 M1399.1 555.6 V560.2 H1403.6999999999998 M1418.6999999999998 560.2 L1410.8999999999999 552.4000000000001 M1414.1 560.2 H1418.6999999999998 V555.6" stroke="#8e919c" stroke-width="1.3" fill="none" stroke-linecap="butt" stroke-linejoin="miter"/></svg></body></html>
